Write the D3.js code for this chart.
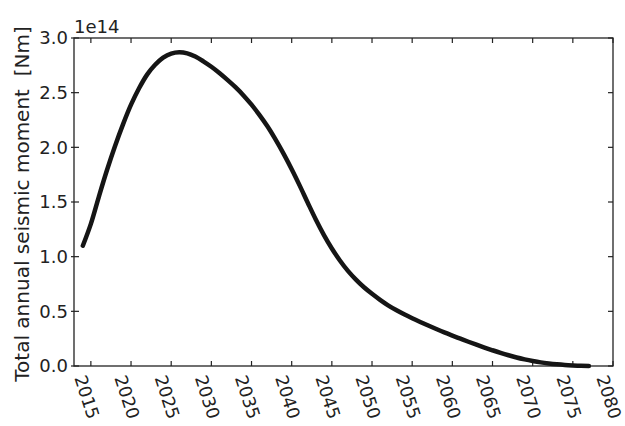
<!DOCTYPE html>
<html>
<head>
<meta charset="utf-8">
<script src="https://cdn.jsdelivr.net/npm/d3@7"></script>
<style>
  body { margin: 0; background: #fff; }
  svg { display: block; font-family: "DejaVu Sans", sans-serif; }
</style>
</head>
<body>
<svg id="chart" width="625" height="426"></svg>
<script>
// annual values (units of 1e14 Nm)
const years = d3.range(2014, 2078);
const moment = [
  1.10, 1.30, 1.55, 1.79, 2.01, 2.21, 2.39, 2.54, 2.665, 2.755,
  2.82, 2.858, 2.87, 2.86, 2.83, 2.787, 2.737, 2.68, 2.617, 2.55,
  2.475, 2.39, 2.295, 2.19, 2.07, 1.94, 1.80, 1.65, 1.493, 1.34,
  1.20, 1.075, 0.965, 0.87, 0.79, 0.72, 0.66, 0.605, 0.555, 0.512,
  0.473, 0.437, 0.403, 0.37, 0.338, 0.307, 0.278, 0.25, 0.222, 0.195,
  0.169, 0.144, 0.12, 0.098, 0.078, 0.061, 0.046, 0.033, 0.023, 0.015,
  0.009, 0.005, 0.002, 0.001
];
const xTicks = [2015, 2020, 2025, 2030, 2035, 2040, 2045, 2050, 2055, 2060, 2065, 2070, 2075, 2080];
const yTicks = [0.0, 0.5, 1.0, 1.5, 2.0, 2.5, 3.0];
const yLabel = "Total annual seismic moment  [Nm]";
const offsetText = "1e14";

const svg = d3.select("#chart");
const m = {left: 74, right: 613, top: 38, bottom: 366};
const ink = "#222";

const x = d3.scaleLinear().domain([2012.9, 2080]).range([m.left, m.right]);
const y = d3.scaleLinear().domain([0, 3]).range([m.bottom, m.top]);

// frame
svg.append("rect")
    .attr("x", m.left).attr("y", m.top)
    .attr("width", m.right - m.left).attr("height", m.bottom - m.top)
    .attr("fill", "none").attr("stroke", ink).attr("stroke-width", 1.3);

// ticks on all four sides, pointing in
const tickLen = 5;
const ticks = svg.append("g").attr("stroke", ink).attr("stroke-width", 1.2);
ticks.append("g").selectAll("line").data(xTicks).join("line")
    .attr("x1", d => x(d)).attr("x2", d => x(d))
    .attr("y1", m.bottom).attr("y2", m.bottom - tickLen);
ticks.append("g").selectAll("line").data(xTicks).join("line")
    .attr("x1", d => x(d)).attr("x2", d => x(d))
    .attr("y1", m.top).attr("y2", m.top + tickLen);
ticks.append("g").selectAll("line").data(yTicks).join("line")
    .attr("x1", m.left - 3).attr("x2", m.left + tickLen)
    .attr("y1", d => y(d)).attr("y2", d => y(d));
ticks.append("g").selectAll("line").data(yTicks).join("line")
    .attr("x1", m.right).attr("x2", m.right - tickLen)
    .attr("y1", d => y(d)).attr("y2", d => y(d));

// y tick labels
svg.append("g").selectAll("text").data(yTicks).join("text")
    .attr("x", m.left - 6)
    .attr("y", d => y(d))
    .attr("dy", "0.35em")
    .attr("text-anchor", "end")
    .attr("font-size", 18)
    .attr("fill", ink)
    .text(d => d3.format(".1f")(d));

// x tick labels, rotated
svg.append("g").selectAll("text").data(xTicks).join("text")
    .attr("transform", d => `translate(${x(d) - 4},${m.bottom + 31}) rotate(72)`)
    .attr("text-anchor", "middle")
    .attr("dy", "0.35em")
    .attr("font-size", 17.5)
    .attr("fill", ink)
    .text(d => d);

// offset text
svg.append("text")
    .attr("x", m.left).attr("y", m.top - 5)
    .attr("font-size", 18)
    .attr("fill", ink)
    .text(offsetText);

// y axis title (two spaces before the unit, as in the original)
svg.append("text")
    .attr("transform", `translate(22,${(m.top + m.bottom) / 2 + 2}) rotate(-90)`)
    .attr("text-anchor", "middle")
    .attr("dy", "0.35em")
    .attr("font-size", 20)
    .attr("fill", ink)
    .style("white-space", "pre")
    .text(yLabel);

// the curve
const line = d3.line()
    .x((d, i) => x(years[i]))
    .y(d => y(d))
    .curve(d3.curveCatmullRom.alpha(0.5));

svg.append("path")
    .datum(moment)
    .attr("d", line)
    .attr("fill", "none")
    .attr("stroke", "#151515")
    .attr("stroke-width", 4.5)
    .attr("stroke-linejoin", "round")
    .attr("stroke-linecap", "round");
</script>
</body>
</html>
